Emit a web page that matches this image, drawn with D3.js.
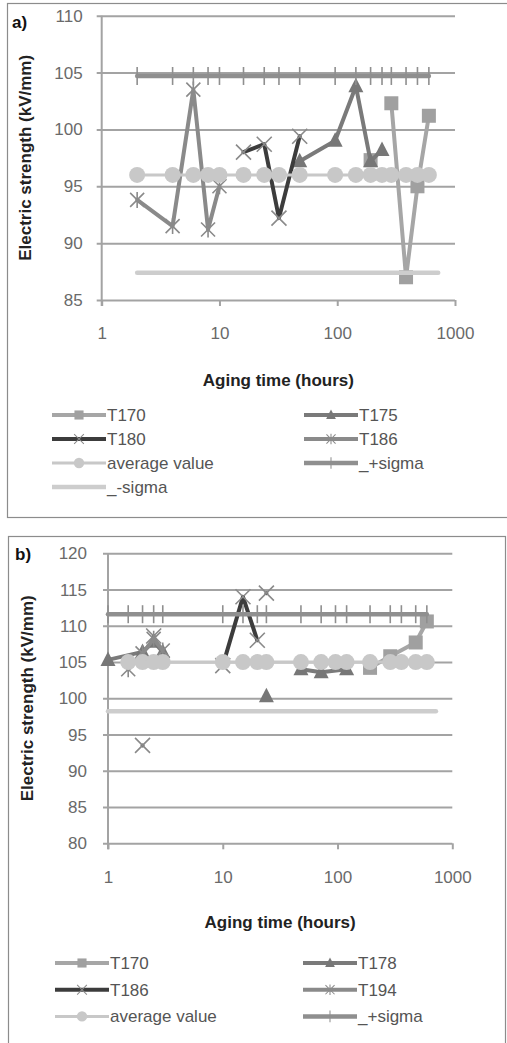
<!DOCTYPE html>
<html><head><meta charset="utf-8">
<script src="https://cdn.jsdelivr.net/npm/d3@7"></script>
<style>
body{margin:0;background:#fff}
svg{display:block}
text{font-family:"Liberation Sans",Arial,sans-serif}
</style>
</head><body>
<svg id="c" width="507" height="1043"></svg>
<script>
// ---------- shared ----------
const xTicks = [1, 10, 100, 1000];
const xTitle = "Aging time (hours)";
const yTitle = "Electric strength (kV/mm)";

// ---------- panel a data ----------
const aYTicks = [85, 90, 95, 100, 105, 110];
const aLabels = ["T170", "T175", "T180", "T186", "average value", "_+sigma", "_-sigma"];
const aT170x = [192, 240, 288, 384, 480, 600];
const aT170y = [97.3, null, 102.3, 87.0, 95.0, 101.2];
const aT175x = [48, 96, 144, 192, 240];
const aT175y = [97.2, 99.0, 103.8, 97.2, 98.2];
const aT180x = [16, 24, 32, 48];
const aT180y = [98.0, 98.7, 92.2, 99.4];
const aT186x = [2, 4, 6, 8, 10];
const aT186y = [93.8, 91.5, 103.5, 91.2, 95.0];
const aAvgX = [2, 4, 6, 8, 10, 16, 24, 32, 48, 96, 144, 192, 240, 288, 384, 480, 600];
const aAvgY = [96, 96, 96, 96, 96, 96, 96, 96, 96, 96, 96, 96, 96, 96, 96, 96, 96];
const aPlusX = [2, 4, 6, 8, 10, 16, 24, 32, 48, 96, 144, 192, 240, 288, 384, 480, 600];
const aPlusY = [104.7, 104.7, 104.7, 104.7, 104.7, 104.7, 104.7, 104.7, 104.7, 104.7, 104.7, 104.7, 104.7, 104.7, 104.7, 104.7, 104.7];
const aMinusX = [2, 4, 6, 8, 10, 16, 24, 32, 48, 96, 144, 192, 240, 288, 384, 480, 600, 720];
const aMinusY = [87.4, 87.4, 87.4, 87.4, 87.4, 87.4, 87.4, 87.4, 87.4, 87.4, 87.4, 87.4, 87.4, 87.4, 87.4, 87.4, 87.4, 87.4];

// ---------- panel b data ----------
const bYTicks = [80, 85, 90, 95, 100, 105, 110, 115, 120];
const bLabels = ["T170", "T178", "T186", "T194", "average value", "_+sigma", "_-sigma"];
const bT170x = [192, 288, 480, 600];
const bT170y = [104.2, 105.8, 107.7, 110.6];
const bT178x = [1, 2, 2.5, 3, 10, 24, 36, 48, 72, 120];
const bT178y = [105.3, 106.4, 107.8, 106.4, null, 100.3, null, 104.0, 103.6, 104.0];
const bT186x = [2, 2.2, 2.5, 5, 10, 15, 20, 22, 24];
const bT186y = [93.5, null, 108.6, null, 104.5, 114.0, 108.0, null, 114.5];
const bT194x = [1.5, 2, 2.5, 3];
const bT194y = [104.0, 106.2, 108.2, 106.6];
const bAvgX = [1.5, 2, 2.5, 3, 10, 15, 20, 24, 48, 72, 96, 120, 192, 288, 360, 480, 600];
const bAvgY = [105, 105, 105, 105, 105, 105, 105, 105, 105, 105, 105, 105, 105, 105, 105, 105, 105];
const bPlusX = [1, 1.5, 2, 2.5, 3, 10, 15, 20, 24, 48, 72, 96, 120, 192, 288, 360, 480, 600];
const bPlusY = [111.6, 111.6, 111.6, 111.6, 111.6, 111.6, 111.6, 111.6, 111.6, 111.6, 111.6, 111.6, 111.6, 111.6, 111.6, 111.6, 111.6, 111.6];
const bMinusX = [1, 1.5, 2, 2.5, 3, 10, 15, 20, 24, 48, 72, 96, 120, 192, 288, 360, 480, 600, 720];
const bMinusY = [98.2, 98.2, 98.2, 98.2, 98.2, 98.2, 98.2, 98.2, 98.2, 98.2, 98.2, 98.2, 98.2, 98.2, 98.2, 98.2, 98.2, 98.2, 98.2];

// ---------- styles ----------
const ST = {
  T170: {line: "#a6a6a6", fill: "#a0a0a0", mstroke: "#a0a0a0", marker: "square", w: 4},
  T175: {line: "#7a7a7a", fill: "#777777", mstroke: "#777777", marker: "triangle", w: 4},
  T180: {line: "#3c3c3c", fill: "#3c3c3c", mstroke: "#8a8a8a", marker: "x", w: 4},
  T186: {line: "#8a8a8a", fill: "#8a8a8a", mstroke: "#8a8a8a", marker: "star", w: 4},
  avg:  {line: "#c8c8c8", fill: "#c8c8c8", mstroke: "#c8c8c8", marker: "circle", w: 3},
  plus: {line: "#8f8f8f", fill: "#8f8f8f", mstroke: "#8f8f8f", marker: "plus", w: 4.5},
  minus:{line: "#cdcdcd", fill: "#cdcdcd", mstroke: "#cdcdcd", marker: null, w: 4.5}
};

const svg = d3.select("#c");

function marker(g, type, cx, cy, s, k) {
  if (!type) return;
  const m = g.append("g").attr("transform", `translate(${cx},${cy}) scale(${k})`);
  if (type === "square") {
    m.append("rect").attr("x", -7).attr("y", -7).attr("width", 14).attr("height", 14).attr("fill", s.fill);
  } else if (type === "circle") {
    m.append("circle").attr("r", 8).attr("fill", s.fill);
  } else if (type === "triangle") {
    m.append("path").attr("d", "M0,-8.5L7.5,6L-7.5,6Z").attr("fill", s.fill);
  } else if (type === "x") {
    m.append("path").attr("d", "M-7.5,-7.5L7.5,7.5M-7.5,7.5L7.5,-7.5")
      .attr("stroke", s.mstroke).attr("stroke-width", 1.6).attr("fill", "none");
  } else if (type === "star") {
    m.append("path").attr("d", "M-7,-7L7,7M-7,7L7,-7M0,-8V8")
      .attr("stroke", s.mstroke).attr("stroke-width", 1.6).attr("fill", "none");
  } else if (type === "plus") {
    m.append("path").attr("d", "M0,-9V9")
      .attr("stroke", s.mstroke).attr("stroke-width", 1.6).attr("fill", "none");
  }
}

function drawPanel(cfg) {
  const g = svg.append("g");
  // frame
  g.append("rect").attr("x", cfg.frame[0]).attr("y", cfg.frame[1])
    .attr("width", cfg.frame[2]).attr("height", cfg.frame[3])
    .attr("fill", "none").attr("stroke", "#8c8c8c").attr("stroke-width", 1.2);
  g.append("text").attr("x", cfg.tag[0]).attr("y", cfg.tag[1])
    .attr("font-family", "Liberation Serif, serif").attr("font-weight", "bold")
    .attr("font-size", 17).attr("fill", "#111").text(cfg.tagText);

  const x = d3.scaleLog().domain([1, 1000]).range(cfg.xr);
  const y = d3.scaleLinear().domain(cfg.yd).range(cfg.yr);
  const left = cfg.xr[0], right = cfg.xr[1];

  // gridlines + y labels
  const ga = g.append("g").attr("transform", `translate(${left},0)`)
    .call(d3.axisLeft(y).tickValues(cfg.yTicks).tickSize(-(right - left)).tickSizeOuter(0).tickFormat(""));
  ga.select(".domain").remove();
  ga.selectAll(".tick line").attr("stroke", "#a3a3a3").attr("stroke-width", 2).attr("x1", -5);
  const gl = g.append("g").attr("transform", `translate(${left},0)`)
    .call(d3.axisLeft(y).tickValues(cfg.yTicks).tickSize(0).tickPadding(cfg.yLabelPad).tickFormat(d3.format("d")));
  gl.select(".domain").remove();
  gl.selectAll("text").attr("font-size", 17).attr("fill", "#6a6a6a")
    .attr("font-family", "Liberation Sans, Arial, sans-serif");

  // x axis
  const gx = g.append("g").attr("transform", `translate(0,${cfg.yr[0]})`)
    .call(d3.axisBottom(x).tickValues(xTicks).tickSize(6).tickSizeOuter(0).tickFormat(d3.format("d")));
  gx.select(".domain").remove();
  gx.selectAll(".tick line").attr("stroke", "#a3a3a3").attr("stroke-width", 2);
  gx.selectAll("text").attr("font-size", 17).attr("fill", "#6a6a6a").attr("y", cfg.xLabelDy).attr("dy", "0.35em")
    .attr("font-family", "Liberation Sans, Arial, sans-serif");
  // y axis line
  g.append("line").attr("x1", left).attr("x2", left).attr("y1", cfg.yr[1]).attr("y2", cfg.yr[0] + 6)
    .attr("stroke", "#a3a3a3").attr("stroke-width", 2);

  // titles
  g.append("text").attr("x", (left + right) / 2 + cfg.xTitleShift).attr("y", cfg.xTitleY).attr("text-anchor", "middle")
    .attr("font-weight", "bold").attr("font-size", 17).attr("fill", "#222").text(xTitle);
  g.append("text").attr("transform", `translate(${cfg.yTitleX},${(cfg.yr[0] + cfg.yr[1]) / 2 + cfg.yTitleShift}) rotate(-90)`)
    .attr("text-anchor", "middle").attr("dy", "0.35em")
    .attr("font-weight", "bold").attr("font-size", 17).attr("fill", "#222").text(yTitle);

  // series
  const line = d3.line().defined(d => d[1] !== null).x(d => x(d[0])).y(d => y(d[1]));
  cfg.series.forEach(s => {
    const pts = s.xs.map((v, i) => [v, s.ys[i]]);
    const st = ST[s.style];
    g.append("path").attr("d", line(pts)).attr("fill", "none").attr("stroke", st.line)
      .attr("stroke-width", st.w).attr("stroke-linejoin", "round").attr("stroke-linecap", "round");
    const mg = g.append("g");
    pts.filter(d => d[1] !== null).forEach(d => marker(mg, st.marker, x(d[0]), y(d[1]), st, 1));
  });

  // legend
  cfg.series.filter(s => !s.legendHidden).forEach((s, i) => {
    const col = i % 2, row = Math.floor(i / 2);
    const lx = cfg.legX[col], ly = cfg.legY0 + row * cfg.legDy;
    const st = ST[s.style];
    g.append("line").attr("x1", lx).attr("x2", lx + 54).attr("y1", ly).attr("y2", ly)
      .attr("stroke", st.line).attr("stroke-width", st.w);
    marker(g, st.marker, lx + 27, ly, st, 0.65);
    g.append("text").attr("x", lx + 55).attr("y", ly).attr("dy", "0.35em")
      .attr("font-size", 17).attr("fill", "#555").text(s.label);
  });
}

drawPanel({
  frame: [7.5, 3.5, 530, 514], tag: [12, 28], tagText: "a)",
  xr: [101.7, 455], yd: [85, 110], yr: [300, 15.7], yTicks: aYTicks,
  yLabelPad: 19, xLabelDy: 33, xTitleY: 386, xTitleShift: 0, yTitleX: 25, yTitleShift: 0,
  legX: [52, 304], legY0: 415, legDy: 24,
  series: [
    {label: aLabels[0], style: "T170", xs: aT170x, ys: aT170y},
    {label: aLabels[1], style: "T175", xs: aT175x, ys: aT175y},
    {label: aLabels[2], style: "T180", xs: aT180x, ys: aT180y},
    {label: aLabels[3], style: "T186", xs: aT186x, ys: aT186y},
    {label: aLabels[4], style: "avg", xs: aAvgX, ys: aAvgY},
    {label: aLabels[5], style: "plus", xs: aPlusX, ys: aPlusY},
    {label: aLabels[6], style: "minus", xs: aMinusX, ys: aMinusY}
  ]
});

drawPanel({
  frame: [8.5, 536.5, 497, 540], tag: [15, 560], tagText: "b)",
  xr: [108, 452.3], yd: [80, 120], yr: [843.3, 553.3], yTicks: bYTicks,
  yLabelPad: 21, xLabelDy: 34, xTitleY: 928, xTitleShift: 0, yTitleX: 27, yTitleShift: 0,
  legX: [55, 303], legY0: 963, legDy: 26.7,
  series: [
    {label: bLabels[0], style: "T170", xs: bT170x, ys: bT170y},
    {label: bLabels[1], style: "T175", xs: bT178x, ys: bT178y},
    {label: bLabels[2], style: "T180", xs: bT186x, ys: bT186y},
    {label: bLabels[3], style: "T186", xs: bT194x, ys: bT194y},
    {label: bLabels[4], style: "avg", xs: bAvgX, ys: bAvgY},
    {label: bLabels[5], style: "plus", xs: bPlusX, ys: bPlusY},
    {label: bLabels[6], style: "minus", xs: bMinusX, ys: bMinusY, legendHidden: true}
  ]
});
</script>
</body></html>
